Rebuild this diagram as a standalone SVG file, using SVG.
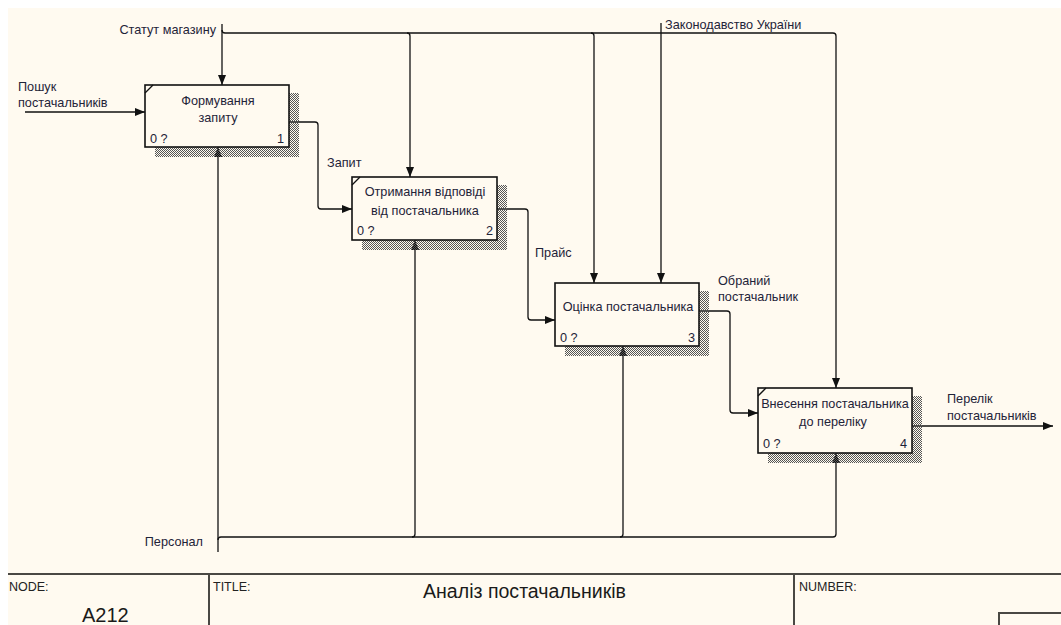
<svg xmlns="http://www.w3.org/2000/svg" width="1061" height="625" viewBox="0 0 1061 625">
  <style>
    .lbl { font-family: "Liberation Sans", Arial, sans-serif; font-size: 12.7px; fill: #1e2338; }
    .box { fill: #fffaf0; stroke: #111; stroke-width: 1.6; }
    .shadow { fill: url(#hatch); }
    .wire { fill: none; stroke: #111; stroke-width: 1.3; }
    .arr { fill: none; stroke: #111; stroke-width: 1.3; marker-end: url(#head); }
    .frame { stroke: #4a4843; stroke-width: 2; fill: none; }
    .foot { font-family: "Liberation Sans", Arial, sans-serif; font-size: 12.5px; fill: #222; }
    .big { font-family: "Liberation Sans", Arial, sans-serif; font-size: 20px; fill: #1a1a1a; }
  </style>
  <defs>
    <pattern id="hatch" width="2" height="2" patternUnits="userSpaceOnUse">
      <rect width="1" height="1" fill="#555"/>
      <rect x="1" y="1" width="1" height="1" fill="#555"/>
    </pattern>
    <marker id="head" viewBox="0 0 10 8" refX="10" refY="4" markerWidth="10" markerHeight="8" markerUnits="userSpaceOnUse" orient="auto">
      <path d="M0,0 L10,4 L0,8 Z" fill="#111"/>
    </marker>
  </defs>

  <!-- sheet -->
  <rect x="0" y="0" width="1061" height="625" fill="#ffffff"/>
  <rect x="8" y="8" width="1053" height="617" fill="#fffaf0"/>

  <!-- connectors -->
  <g id="connectors">
    <!-- control: Статут магазину -->
    <path class="arr" d="M222,24 V85"/>
    <path class="wire" d="M222,30 q0,3 3,3 H833 q3,0 3,3"/>
    <path class="arr" d="M836,36 V388"/>
    <path class="wire" d="M407,33 q3,0 3,3"/>
    <path class="arr" d="M410,36 V177"/>
    <path class="wire" d="M591,33 q3,0 3,3"/>
    <path class="arr" d="M594,36 V283"/>
    <!-- control: Законодавство України -->
    <path class="arr" d="M661,23 V283"/>
    <!-- input: Пошук постачальників -->
    <path class="arr" d="M25,112 H145"/>
    <!-- Запит -->
    <path class="arr" d="M289,122 H315 q3,0 3,3 V206 q0,3 3,3 H352"/>
    <!-- Прайс -->
    <path class="arr" d="M497,209 H525 q3,0 3,3 V317 q0,3 3,3 H555"/>
    <!-- Обраний постачальник -->
    <path class="arr" d="M699,311 H727 q3,0 3,3 V410 q0,3 3,3 H758"/>
    <!-- output: Перелік постачальників -->
    <path class="arr" d="M912,426 H1053"/>
    <!-- mechanism: Персонал -->
    <path class="arr" d="M218,552 V147"/>
    <path class="wire" d="M218,540 q0,-3 3,-3 H833 q3,0 3,-3"/>
    <path class="arr" d="M836,534 V453"/>
    <path class="wire" d="M412,537 q3,0 3,-3"/>
    <path class="arr" d="M415,534 V240"/>
    <path class="wire" d="M620,537 q3,0 3,-3"/>
    <path class="arr" d="M623,534 V346"/>
  </g>

  <!-- arrow labels -->
  <g id="labels">
    <text class="lbl" x="216" y="34" text-anchor="end">Статут магазину</text>
    <text class="lbl" x="665" y="29">Законодавство України</text>
    <text class="lbl" x="18" y="91">Пошук</text>
    <text class="lbl" x="18" y="107">постачальників</text>
    <text class="lbl" x="327" y="167">Запит</text>
    <text class="lbl" x="535" y="257">Прайс</text>
    <text class="lbl" x="718" y="285">Обраний</text>
    <text class="lbl" x="718" y="301">постачальник</text>
    <text class="lbl" x="947" y="403">Перелік</text>
    <text class="lbl" x="947" y="420">постачальників</text>
    <text class="lbl" x="203" y="546" text-anchor="end">Персонал</text>
  </g>

  <!-- activity 1 -->
  <g id="node-1">
    <path class="shadow" d="M289,93 H299 V157 H155 V147 H289 Z"/>
    <rect class="box" x="145" y="85" width="144" height="62"/>
    <path class="wire" d="M145,93 L153,85"/>
    <text class="lbl" x="218" y="105" text-anchor="middle">Формування</text>
    <text class="lbl" x="218" y="122" text-anchor="middle">запиту</text>
    <text class="lbl" x="150" y="143">0 ?</text>
    <text class="lbl" x="284" y="143" text-anchor="end">1</text>
  </g>

  <!-- activity 2 -->
  <g id="node-2">
    <path class="shadow" d="M497,185 H507 V250 H362 V240 H497 Z"/>
    <rect class="box" x="352" y="177" width="145" height="63"/>
    <path class="wire" d="M352,185 L360,177"/>
    <text class="lbl" x="425" y="196" text-anchor="middle">Отримання відповіді</text>
    <text class="lbl" x="425" y="215" text-anchor="middle">від постачальника</text>
    <text class="lbl" x="357" y="235">0 ?</text>
    <text class="lbl" x="493" y="235" text-anchor="end">2</text>
  </g>

  <!-- activity 3 -->
  <g id="node-3">
    <path class="shadow" d="M699,291 H709 V356 H565 V346 H699 Z"/>
    <rect class="box" x="555" y="283" width="144" height="63"/>
    <text class="lbl" x="628" y="311" text-anchor="middle">Оцінка постачальника</text>
    <text class="lbl" x="560" y="342">0 ?</text>
    <text class="lbl" x="695" y="342" text-anchor="end">3</text>
  </g>

  <!-- activity 4 -->
  <g id="node-4">
    <path class="shadow" d="M912,396 H922 V463 H768 V453 H912 Z"/>
    <rect class="box" x="758" y="388" width="154" height="65"/>
    <path class="wire" d="M758,396 L766,388"/>
    <text class="lbl" x="835" y="408" text-anchor="middle">Внесення постачальника</text>
    <text class="lbl" x="833" y="426" text-anchor="middle">до переліку</text>
    <text class="lbl" x="763" y="448">0 ?</text>
    <text class="lbl" x="907" y="448" text-anchor="end">4</text>
  </g>

  <!-- title block -->
  <g id="title-block">
    <path class="frame" d="M8,574 H1061 M209,574 V625 M794,574 V625 M999,625 V613 H1061"/>
    <text class="foot" x="9" y="591">NODE:</text>
    <text class="foot" x="213" y="591">TITLE:</text>
    <text class="foot" x="799" y="591">NUMBER:</text>
    <text class="big" x="82" y="622">A212</text>
    <text class="big" x="423" y="598" textLength="203" lengthAdjust="spacingAndGlyphs">Аналіз постачальників</text>
  </g>
</svg>
